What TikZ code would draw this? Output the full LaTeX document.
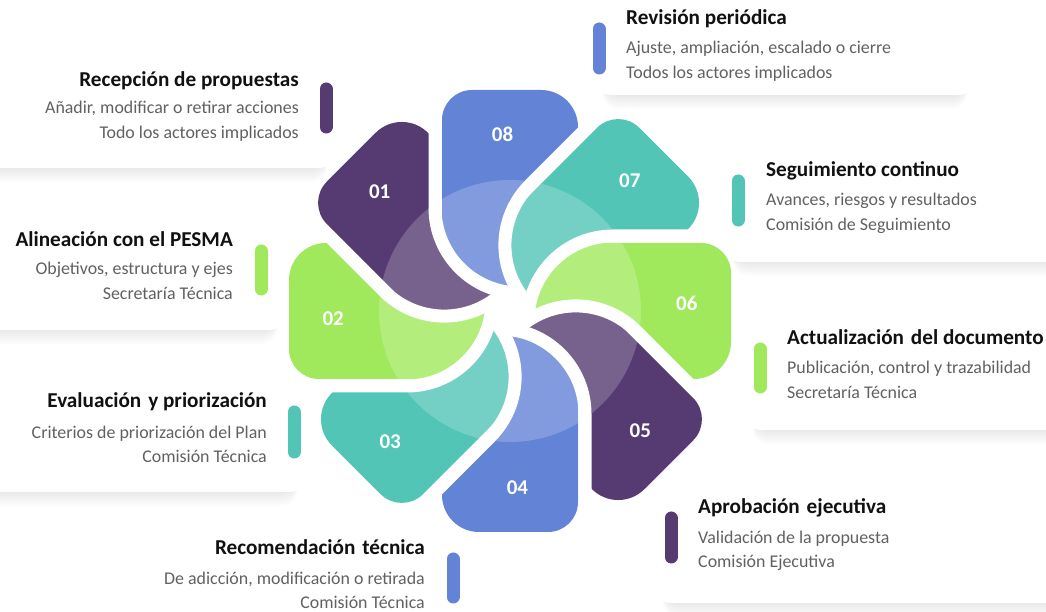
\documentclass[tikz,border=0pt]{standalone}
\usepackage{fontspec}
\setmainfont{Carlito}
\usetikzlibrary{calc}
\definecolor{cpurple}{HTML}{553B72}
\definecolor{cgreen}{HTML}{A0E95C}
\definecolor{cteal}{HTML}{52C5B6}
\definecolor{cblue}{HTML}{6283D6}
\definecolor{ctitle}{HTML}{111111}
\definecolor{csub}{HTML}{616161}
\tikzset{
  sectorpath/.style={insert path={(-75,330) -- (-75,103) arc[start angle=180,end angle=270,radius=85] arc[start angle=214.2,end angle=135,radius=85] -- (159.1,265.2) -- (0,340) -- cycle}},
  bandpath/.style={insert path={(-68,-20) -- (-68,191) arc[start angle=180,end angle=90,radius=30] -- (31,221) arc[start angle=90,end angle=0,radius=37] -- (68,-20) -- cycle}},
  gappath/.style={insert path={(-75,200) -- (-75,103) arc[start angle=180,end angle=270,radius=85]}},
  titletext/.style={font=\fontsize{21.2}{25}\selectfont\bfseries, text=ctitle, inner sep=0pt},
  subtext/.style={font=\fontsize{17.9}{21}\selectfont, text=csub, inner sep=0pt},
  numtext/.style={font=\fontsize{21}{25}\selectfont\bfseries, text=white, inner sep=0pt},
  bar/.style={line width=13, line cap=round}
}
\newcommand\cardbox[4]{%
  \foreach \s in {2,4,...,14}{\fill[black,opacity=0.011,rounded corners=16] (#1+8,612-#4-\s) rectangle (#3-8,612-#2);}
  \fill[white,rounded corners=16] (#1,612-#4) rectangle (#3,612-#2);
}
\newcommand\xsp{\hspace{0.1em} }
\begin{document}
\begin{tikzpicture}[x=1pt,y=1pt]
\useasboundingbox (0,0) rectangle (1046,612);
\fill[white] (0,0) rectangle (1046,612);
% cards
\cardbox{-30}{45}{335}{168}
\cardbox{-30}{208}{285}{330}
\cardbox{-30}{370}{305}{492}
\cardbox{150}{520}{475}{650}
\cardbox{595}{-30}{975}{95}
\cardbox{725}{138}{1080}{262}
\cardbox{745}{305}{1080}{430}
\cardbox{655}{478}{1080}{603}
% petals
\foreach \k/\c in {1/cpurple,2/cgreen,3/cteal,4/cblue,5/cpurple,6/cgreen,7/cteal,8/cblue}{
  \begin{scope}[shift={(510,301)}, rotate={(\k-8)*45}]
    \clip[sectorpath];
    \fill[\c][bandpath];
  \end{scope}
}
\fill[white,opacity=0.2] (510,301) circle[radius=131];
\foreach \k in {1,...,8}{
  \begin{scope}[shift={(510,301)}, rotate={(\k-8)*45}]
    \draw[white,line width=13][gappath];
  \end{scope}
}
\foreach \k in {1,...,8}{
  \node[numtext] (num\k) at ($(510,301)+({92.4+(\k-8)*45}:177)$) {0\k};
}
% bars
\draw[bar,cpurple] (326,612-89) -- (326,612-127);
\draw[bar,cgreen] (261,612-251) -- (261,612-289);
\draw[bar,cteal] (294,612-412) -- (294,612-452);
\draw[bar,cblue] (453,612-559) -- (453,612-597);
\draw[bar,cpurple] (671,612-518) -- (671,612-557);
\draw[bar,cgreen] (760,612-349) -- (760,612-387);
\draw[bar,cteal] (738,612-181) -- (738,612-220);
\draw[bar,cblue] (599,612-29) -- (599,612-68);
% texts left
\node[titletext,anchor=base east] (t1) at (299,612-87) {Recepción de propuestas};
\node[subtext,anchor=base east] (a1) at (299,612-114) {Añadir, modificar o retirar acciones};
\node[subtext,anchor=base east] (b1) at (299,612-139) {Todo los actores implicados};
\node[titletext,anchor=base east] (t2) at (233,612-247) {Alineación con el PESMA};
\node[subtext,anchor=base east] (a2) at (233,612-275) {Objetivos, estructura y ejes};
\node[subtext,anchor=base east] (b2) at (233,612-300) {Secretaría Técnica};
\node[titletext,anchor=base east] (t3) at (267,612-408) {Evaluación\xsp y priorización};
\node[subtext,anchor=base east] (a3) at (267,612-439) {Criterios de priorización del Plan};
\node[subtext,anchor=base east] (b3) at (267,612-463) {Comisión Técnica};
\node[titletext,anchor=base east] (t4) at (425,612-555) {Recomendación\xsp técnica};
\node[subtext,anchor=base east] (a4) at (425,612-585) {De adicción, modificación o retirada};
\node[subtext,anchor=base east] (b4) at (425,612-609) {Comisión Técnica};
% texts right
\node[titletext,anchor=base west] (t5) at (698,612-514) {Aprobación\xsp ejecutiva};
\node[subtext,anchor=base west] (a5) at (698,612-544) {Validación de la propuesta};
\node[subtext,anchor=base west] (b5) at (698,612-568) {Comisión Ejecutiva};
\node[titletext,anchor=base west] (t6) at (787,612-345) {Actualización\xsp del documento};
\node[subtext,anchor=base west] (a6) at (787,612-374) {Publicación, control y trazabilidad};
\node[subtext,anchor=base west] (b6) at (787,612-399) {Secretaría Técnica};
\node[titletext,anchor=base west] (t7) at (766,612-177) {Seguimiento continuo};
\node[subtext,anchor=base west] (a7) at (766,612-206) {Avances, riesgos y resultados};
\node[subtext,anchor=base west] (b7) at (766,612-231) {Comisión de Seguimiento};
\node[titletext,anchor=base west] (t8) at (626,612-25) {Revisión periódica};
\node[subtext,anchor=base west] (a8) at (626,612-54) {Ajuste, ampliación, escalado o cierre};
\node[subtext,anchor=base west] (b8) at (626,612-79) {Todos los actores implicados};
\end{tikzpicture}
\end{document}
